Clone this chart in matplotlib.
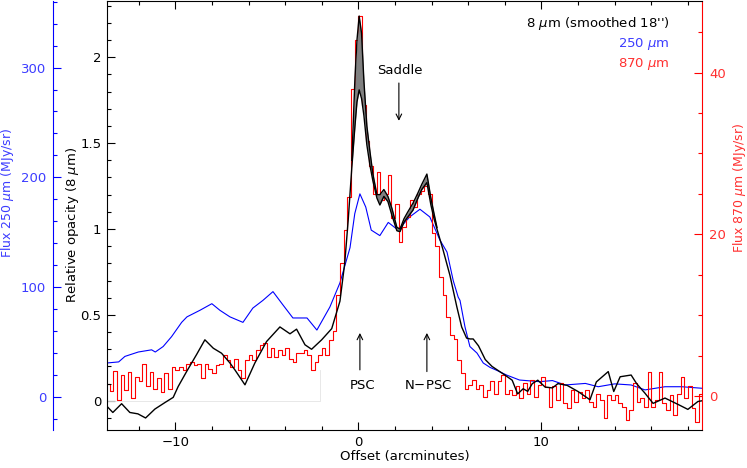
import numpy as np
import matplotlib.pyplot as plt
from matplotlib.ticker import MultipleLocator

# ── Data ──
# 8 um relative opacity (smoothed 18"), offset in arcmin
op_x = [-13.76, -13.42, -12.94, -12.49, -12.05, -11.63, -11.12, -10.57, -10.12, -9.85,
        -9.39, -8.84, -8.39, -7.93, -7.48, -7.02, -6.75, -6.20, -5.66, -5.02,
        -4.29, -3.74, -3.38, -2.92, -2.56, -2.01, -1.46, -1.01, -0.75, -0.56,
        -0.36, -0.19, -0.08, 0.04, 0.17, 0.30, 0.46, 0.63, 0.79, 1.01,
        1.17, 1.39, 1.61, 1.83, 2.10, 2.27, 2.49, 2.70, 2.98, 3.25,
        3.46, 3.74, 3.96, 4.13, 4.29, 4.62, 5.00, 5.37, 5.64, 5.91,
        6.10, 6.27, 6.56, 6.93, 7.30, 8.00, 8.40, 8.70, 9.00, 9.25,
        9.50, 9.80, 10.2, 10.6, 10.9, 11.4, 12.0, 12.65, 13.0, 13.65,
        13.95, 14.3, 14.9, 15.2, 15.65, 16.1, 16.75, 17.5, 18.0, 18.55, 18.77]
op_y = [-0.03, -0.068, -0.017, -0.068, -0.076, -0.10, -0.048, -0.01, 0.02, 0.083,
        0.17, 0.27, 0.355, 0.306, 0.277, 0.22, 0.18, 0.093, 0.22, 0.345,
        0.43, 0.39, 0.417, 0.326, 0.30, 0.355, 0.42, 0.58, 0.80, 1.05,
        1.36, 1.60, 1.74, 1.81, 1.76, 1.66, 1.49, 1.37, 1.28, 1.18,
        1.14, 1.19, 1.16, 1.08, 0.99, 0.985, 1.04, 1.07, 1.11, 1.18,
        1.23, 1.27, 1.14, 1.06, 1.00, 0.88, 0.73, 0.55, 0.43, 0.365,
        0.36, 0.36, 0.32, 0.24, 0.20, 0.15, 0.12, 0.04, 0.07, 0.055,
        0.10, 0.12, 0.08, 0.075, 0.10, 0.09, 0.054, 0.006, 0.11, 0.17,
        0.054, 0.14, 0.15, 0.10, 0.045, -0.015, 0.016, -0.023, -0.05, -0.004, 0.0]

# shaded band between the two opacity estimates around the peaks
band_x = [-0.36, -0.19, -0.08, 0.04, 0.17, 0.30, 0.46, 0.63, 0.79, 1.01,
          1.17, 1.39, 1.61, 1.83, 2.10, 2.27, 2.49, 2.70, 2.98, 3.25,
          3.46, 3.74, 3.96, 4.13, 4.29]
band_lo = [1.36, 1.60, 1.74, 1.81, 1.76, 1.66, 1.49, 1.37, 1.28, 1.18,
           1.14, 1.19, 1.16, 1.08, 0.99, 0.985, 1.04, 1.07, 1.11, 1.18,
           1.23, 1.27, 1.14, 1.06, 1.00]
band_hi = [1.40, 1.88, 2.10, 2.24, 2.14, 1.86, 1.60, 1.45, 1.32, 1.20,
           1.20, 1.23, 1.19, 1.12, 1.01, 1.00, 1.06, 1.10, 1.15, 1.21,
           1.26, 1.32, 1.18, 1.09, 1.01]

# 250 um flux (MJy/sr)
f250_x = [-13.75, -13.1, -12.76, -12.03, -11.3, -11.1, -10.67, -10.21, -9.66, -9.37,
          -8.66, -8.01, -7.57, -7.02, -6.31, -5.77, -5.22, -4.67, -4.13, -3.58,
          -2.81, -2.27, -1.56, -1.01, -0.46, -0.2, 0.08, 0.4, 0.7, 1.17,
          1.63, 2.17, 2.8, 3.36, 3.9, 4.45, 4.84, 5.18, 5.45, 5.55,
          5.82, 6.09, 6.48, 6.82, 7.19, 7.6, 8.1, 8.8, 9.9, 10.6,
          11.3, 12.4, 13.1, 14.0, 14.9, 15.66, 16.75, 17.66, 18.77]
f250_y = [31, 32, 37, 41, 43, 41, 46, 55, 68, 73,
          79, 85, 79, 73, 68, 81, 88, 96, 84, 72,
          72, 61, 82, 104, 136, 167, 185, 173, 152, 147,
          159, 152, 164, 171, 164, 143, 132, 106, 91, 88,
          64, 46, 40, 31, 27, 24, 20, 15.5, 14, 15,
          11, 12.4, 9.4, 12, 11, 6.5, 9.4, 9.4, 8]

# 870 um flux (MJy/sr), bins of 0.2' starting at -13.7'
f870_start = -13.7
f870_bin = 0.2
f870_y = [1.5, 0.6, 3.1, -0.5, 2.6, 0.7, 3.0, -0.3, 2.4, 1.8,
          4.0, 1.2, 3.0, 0.9, 2.2, 0.5, 2.8, 0.9, 3.6, 3.2,
          3.6, 3.2, 4.0, 4.2, 3.8, 4.0, 2.2, 4.0, 3.4, 2.8,
          3.8, 4.0, 5.1, 4.4, 3.6, 4.6, 3.2, 2.2, 4.4, 5.1,
          4.4, 5.7, 6.3, 6.5, 4.8, 5.9, 4.8, 5.7, 5.1, 5.9,
          4.6, 4.2, 5.3, 5.3, 5.7, 5.1, 3.2, 4.2, 5.1, 5.9,
          5.1, 6.9, 8.1, 12.5, 16.4, 20.5, 24.6, 38.0, 44.0, 47.0,
          36.0, 31.5, 28.5, 25.0, 27.7, 24.2, 25.0, 27.3, 22.0, 23.8,
          19.0, 20.9, 22.1, 24.2, 23.4, 25.0, 25.4, 26.0, 25.0, 20.1,
          18.5, 14.7, 12.5, 9.8, 7.5, 7.1, 4.5, 2.8, 0.9, 1.4,
          2.0, 0.9, 1.4, -0.1, 0.7, 1.8, 0.3, 1.8, 2.6, 0.3,
          0.7, 0.1, 1.2, -0.3, 1.6, 0.3, 2.0, -0.1, 1.4, 2.4,
          1.1, -1.3, 1.2, -0.5, 1.6, -0.9, -1.5, 0.7, -0.7, 0.5,
          -0.3, 0.7, -0.7, -1.3, 0.3, -0.5, -2.7, 0.1, -0.5, 0.1,
          -0.9, -1.3, -3.0, -1.7, 1.6, -0.7, -0.3, -1.3, 3.0, -1.3,
          -0.5, 3.0, -0.9, -1.7, 0.1, -2.3, 0.3, 2.4, -0.3, 1.2,
          -1.5, -3.2, 0.3]
f870_x = f870_start + f870_bin * np.arange(len(f870_y))

# faint zero-level guide seen at the lower left
guide_x = [-13.75, -2.1, -2.1]
guide_y = [0.0, 0.0, 0.18]

BLUE = '#0000ff'
BLUE_TXT = '#3c3cff'
RED = '#ff0000'
RED_TXT = '#ff3030'
FS = 9.5

fig = plt.figure(figsize=(7.47, 4.68), dpi=100, facecolor='white')
ax = fig.add_axes([0.1432, 0.0812, 0.7965, 0.9176])
ax_b = ax.twinx()
ax_r = ax.twinx()

# draw order: blue under red under black
ax.set_zorder(3)
ax.patch.set_visible(False)
ax_r.set_zorder(2)
ax_b.set_zorder(1)

# ── 250 um (blue, outer left axis) ──
ax_b.plot(f250_x, f250_y, color=BLUE, lw=0.8)
ax_b.set_ylim(-30, 361)
for s in ['top', 'bottom', 'right']:
    ax_b.spines[s].set_visible(False)
ax_b.spines['left'].set_position(('outward', 54 * 0.72))
ax_b.spines['left'].set_color(BLUE)
ax_b.yaxis.set_ticks_position('left')
ax_b.yaxis.set_label_position('left')
ax_b.yaxis.set_major_locator(MultipleLocator(100))
ax_b.yaxis.set_minor_locator(MultipleLocator(20))
ax_b.tick_params(axis='y', which='both', direction='in', colors=BLUE,
                 labelcolor=BLUE_TXT, labelsize=FS, pad=5)
ax_b.tick_params(axis='y', which='major', length=6, width=0.8)
ax_b.tick_params(axis='y', which='minor', length=3, width=0.8)
ax_b.set_ylabel('Flux 250 $\\mu$m (MJy/sr)', color=BLUE_TXT, fontsize=9)
ax_b.yaxis.set_label_coords(-0.153, 0.553)

# ── 870 um (red, right axis) ──
ax_r.step(f870_x, f870_y, where='mid', color=RED, lw=0.8)
ax_r.set_ylim(-4.2, 48.9)
for s in ['top', 'bottom', 'left']:
    ax_r.spines[s].set_visible(False)
ax_r.spines['right'].set_color(RED)
ax_r.yaxis.set_major_locator(MultipleLocator(20))
ax_r.yaxis.set_minor_locator(MultipleLocator(5))
ax_r.tick_params(axis='y', which='both', direction='in', colors=RED,
                 labelcolor=RED_TXT, labelsize=FS, pad=5)
ax_r.tick_params(axis='y', which='major', length=6, width=0.8)
ax_r.tick_params(axis='y', which='minor', length=3, width=0.8)
ax_r.set_ylabel('Flux 870 $\\mu$m (MJy/sr)', color=RED_TXT, fontsize=9)
ax_r.yaxis.set_label_coords(1.048, 0.565)

# ── 8 um opacity (black, inner left axis) ──
ax.plot(guide_x, guide_y, color='#e4e4e4', lw=0.6)
ax.fill_between(band_x, band_lo, band_hi, color='#808080', lw=0)
ax.plot(band_x, band_hi, color='black', lw=1.0)
ax.plot(op_x, op_y, color='black', lw=1.0)
ax.set_xlim(-13.74, 18.77)
ax.set_ylim(-0.17, 2.33)
ax.spines['right'].set_visible(False)
ax.xaxis.set_major_locator(MultipleLocator(10))
ax.xaxis.set_minor_locator(MultipleLocator(2))
ax.yaxis.set_major_locator(MultipleLocator(0.5))
ax.yaxis.set_minor_locator(MultipleLocator(0.1))
ax.yaxis.set_major_formatter(plt.FuncFormatter(lambda v, p: f'{v:g}'))
ax.tick_params(which='both', direction='in', top=True, bottom=True,
               left=True, right=False, labelsize=FS, width=0.8)
ax.tick_params(which='major', length=6)
ax.tick_params(which='minor', length=3)
ax.tick_params(axis='x', pad=4)
ax.tick_params(axis='y', pad=4)
ax.set_xlabel('Offset (arcminutes)', fontsize=FS, labelpad=1)
ax.set_ylabel('Relative opacity (8 $\\mu$m)', fontsize=FS)
ax.yaxis.set_label_coords(-0.043, 0.477)

# annotations
arrow = dict(arrowstyle='->', color='black', lw=0.8, shrinkA=0, shrinkB=0)
ax.text(2.25, 1.925, 'Saddle', ha='center', va='center', fontsize=FS)
ax.annotate('', xy=(2.21, 1.63), xytext=(2.21, 1.85), arrowprops=arrow)
ax.text(0.2, 0.087, 'PSC', ha='center', va='center', fontsize=FS)
ax.annotate('', xy=(0.08, 0.395), xytext=(0.08, 0.18), arrowprops=arrow)
ax.text(3.8, 0.087, 'N$-$PSC', ha='center', va='center', fontsize=FS)
ax.annotate('', xy=(3.74, 0.395), xytext=(3.74, 0.17), arrowprops=arrow)

# legend texts, top right
ax.text(0.946, 0.9465, "8 $\\mu$m (smoothed 18'')", transform=ax.transAxes,
        ha='right', va='center', fontsize=FS)
ax.text(0.946, 0.900, '250 $\\mu$m', transform=ax.transAxes,
        ha='right', va='center', fontsize=FS, color=BLUE_TXT)
ax.text(0.946, 0.853, '870 $\\mu$m', transform=ax.transAxes,
        ha='right', va='center', fontsize=FS, color=RED_TXT)

plt.savefig('out.png', dpi=100, facecolor='white')
